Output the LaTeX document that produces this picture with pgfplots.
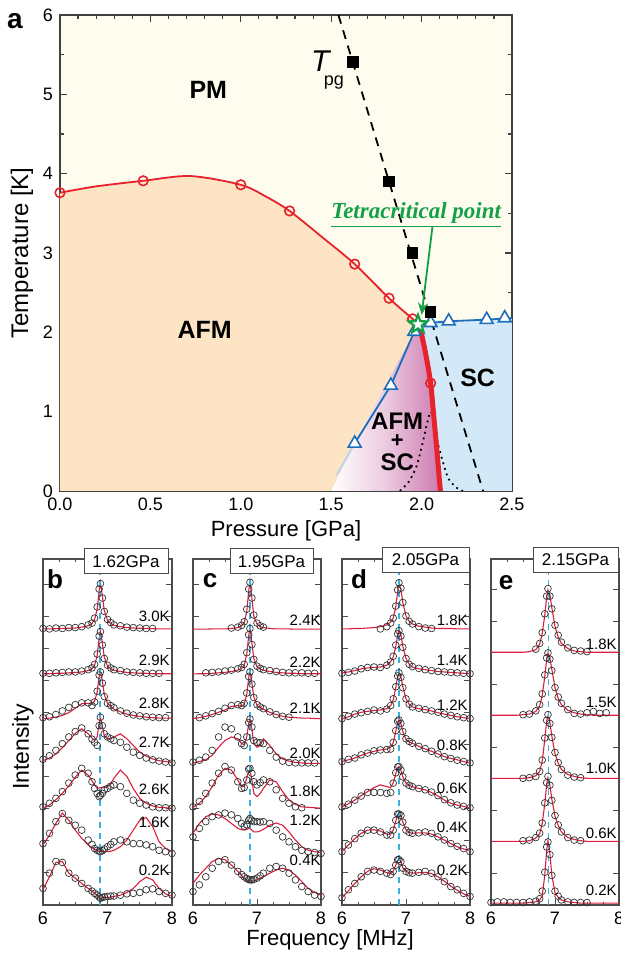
\documentclass[border=0pt]{standalone}
\usepackage{fontspec}
\setmainfont{Liberation Sans}
\newfontfamily\timesf{Liberation Serif}
\usepackage{pgfplots}
\pgfplotsset{compat=1.18}
\usepackage{pgfplotstable}
\usetikzlibrary{arrows.meta}

\definecolor{pmbg}{RGB}{253,252,238}
\definecolor{afm}{RGB}{252,228,197}
\definecolor{scb}{RGB}{212,233,247}
\definecolor{mixp}{RGB}{205,122,176}
\definecolor{redl}{RGB}{230,35,45}
\definecolor{bluel}{RGB}{30,110,185}
\definecolor{greenl}{RGB}{20,160,70}
\definecolor{cyanl}{RGB}{60,175,225}
\definecolor{fitred}{RGB}{220,30,60}

\pgfdeclareplotmark{fstar}{%
 \pgfpathmoveto{\pgfpointpolar{90}{\pgfplotmarksize}}%
 \pgfpathlineto{\pgfpointpolar{126}{0.42\pgfplotmarksize}}%
 \pgfpathlineto{\pgfpointpolar{162}{\pgfplotmarksize}}%
 \pgfpathlineto{\pgfpointpolar{198}{0.42\pgfplotmarksize}}%
 \pgfpathlineto{\pgfpointpolar{234}{\pgfplotmarksize}}%
 \pgfpathlineto{\pgfpointpolar{270}{0.42\pgfplotmarksize}}%
 \pgfpathlineto{\pgfpointpolar{306}{\pgfplotmarksize}}%
 \pgfpathlineto{\pgfpointpolar{342}{0.42\pgfplotmarksize}}%
 \pgfpathlineto{\pgfpointpolar{18}{\pgfplotmarksize}}%
 \pgfpathlineto{\pgfpointpolar{54}{0.42\pgfplotmarksize}}%
 \pgfpathclose
 \pgfusepathqfillstroke}

% spectra: f = fit, d = data (relative to baseline)
\pgfplotstableread{
x f1 d1 f2 d2 f3 d3 f4 d4 f5 d5 f6 d6 f7 d7
6.0 0.01 0.02 0.01 0.02 0.01 0.03 0.07 0.1 0.01 0.04 0.19 0.22 0.19 0.22
6.1 0.01 0.01 0.01 0.02 0.02 0.05 0.13 0.18 0.08 0.12 0.41 0.45 0.48 0.56
6.2 0.015 0.03 0.02 0.03 0.04 0.1 0.22 0.3 0.2 0.23 0.67 0.71 0.8 0.82
6.3 0.02 0.02 0.02 0.04 0.08 0.18 0.36 0.45 0.34 0.38 0.9 0.89 0.82 0.8
6.4 0.025 0.04 0.03 0.05 0.14 0.26 0.52 0.6 0.51 0.57 0.74 0.74 0.56 0.56
6.5 0.03 0.04 0.04 0.05 0.24 0.32 0.68 0.72 0.7 0.75 0.52 0.63 0.45 0.45
6.6 0.05 0.06 0.05 0.07 0.34 0.36 0.78 0.8 0.86 0.9 0.34 0.52 0.33 0.33
6.7 0.08 0.1 0.08 0.1 0.35 0.36 0.67 0.67 0.75 0.79 0.19 0.3 0.22 0.22
6.76 0.13 0.14 0.12 0.14 0.33 0.3 0.58 0.55 0.62 0.6 0.13 0.2 0.16 0.16
6.8 0.22 0.25 0.2 0.22 0.4 0.38 0.52 0.48 0.53 0.45 0.09 0.11 0.11 0.11
6.84 0.45 0.5 0.42 0.45 0.6 0.62 0.6 0.41 0.45 0.34 0.06 0.07 0.06 0.07
6.87 0.85 0.9 0.8 0.85 0.95 0.98 0.9 0.85 0.46 0.27 0.05 0.05 0.02 0.03
6.89 1.05 1.02 0.96 0.95 1.07 1.05 1.04 1.04 0.47 0.3 0.04 0.04 0.0 0.0
6.92 0.75 0.7 0.7 0.65 0.85 0.8 0.85 0.85 0.47 0.34 0.04 0.06 0.01 0.02
6.95 0.42 0.4 0.38 0.35 0.55 0.5 0.62 0.67 0.47 0.42 0.04 0.1 0.02 0.03
7.0 0.2 0.22 0.18 0.2 0.35 0.35 0.56 0.6 0.49 0.45 0.04 0.15 0.02 0.04
7.05 0.13 0.15 0.12 0.14 0.28 0.3 0.57 0.56 0.56 0.5 0.05 0.2 0.03 0.05
7.1 0.09 0.1 0.09 0.1 0.22 0.25 0.6 0.52 0.68 0.53 0.07 0.26 0.04 0.05
7.2 0.06 0.08 0.06 0.08 0.16 0.18 0.67 0.48 0.86 0.49 0.15 0.3 0.07 0.07
7.3 0.04 0.05 0.04 0.05 0.11 0.13 0.56 0.37 0.72 0.34 0.3 0.26 0.13 0.1
7.4 0.03 0.04 0.03 0.04 0.08 0.09 0.41 0.26 0.45 0.19 0.52 0.22 0.22 0.11
7.5 0.025 0.03 0.02 0.03 0.06 0.07 0.26 0.19 0.23 0.12 0.74 0.22 0.37 0.13
7.6 0.02 0.02 0.02 0.02 0.04 0.05 0.17 0.13 0.12 0.08 0.8 0.19 0.47 0.19
7.7 0.015 0.02 0.01 0.02 0.03 0.04 0.11 0.09 0.06 0.04 0.6 0.15 0.41 0.21
7.8 0.01 nan 0.01 0.02 0.02 0.03 0.07 0.06 0.03 0.02 0.26 0.07 0.22 0.15
7.9 0.01 nan 0.01 nan 0.02 0.03 0.05 0.04 0.02 0.02 0.11 0.04 0.1 0.11
8.0 0.01 nan 0.01 nan 0.02 nan 0.03 0.02 0.01 0.01 0.04 0.0 0.04 0.07
}\tabB

\pgfplotstableread{
x f1 d1 f2 d2 f3 d3 f4 d4 f5 d5 f6 d6 f7 d7
6.0 0.005 nan 0.005 nan 0.01 nan 0.02 0.04 0.03 0.04 0.45 0.37 0.33 0.15
6.1 0.005 nan 0.01 nan 0.03 0.03 0.05 0.08 0.12 0.16 0.67 0.56 0.52 0.3
6.2 0.005 nan 0.01 0.03 0.06 0.07 0.09 0.15 0.27 0.34 0.82 0.71 0.67 0.48
6.3 0.01 nan 0.02 0.04 0.1 0.12 0.19 0.3 0.49 0.57 0.88 0.82 0.82 0.67
6.4 0.01 nan 0.03 0.05 0.15 0.17 0.37 0.6 0.75 0.79 0.86 0.86 0.89 0.82
6.5 0.01 nan 0.04 0.07 0.2 0.24 0.52 0.82 0.9 0.94 0.78 0.9 0.86 0.86
6.6 0.02 0.03 0.06 0.09 0.28 0.3 0.6 0.78 0.86 0.86 0.67 0.86 0.74 0.74
6.7 0.04 0.05 0.09 0.12 0.3 0.32 0.56 0.6 0.64 0.6 0.56 0.78 0.6 0.6
6.76 0.08 0.09 0.13 0.15 0.28 0.3 0.45 0.45 0.49 0.45 0.53 0.67 0.51 0.53
6.8 0.15 0.17 0.2 0.22 0.33 0.35 0.43 0.41 0.5 0.47 0.52 0.61 0.45 0.48
6.84 0.4 0.45 0.45 0.48 0.55 0.58 0.6 0.6 0.68 0.64 0.54 0.64 0.41 0.44
6.87 0.85 0.9 0.85 0.88 0.92 0.95 0.9 0.92 0.84 0.88 0.56 0.74 0.38 0.42
6.89 1.08 1.05 1.05 1.02 1.07 1.05 1.0 1.0 0.86 0.9 0.56 0.78 0.37 0.41
6.92 0.7 0.7 0.7 0.66 0.8 0.78 0.78 0.82 0.65 0.79 0.52 0.74 0.38 0.41
6.95 0.3 0.32 0.35 0.33 0.5 0.48 0.45 0.52 0.34 0.6 0.48 0.71 0.39 0.42
7.0 0.12 0.14 0.17 0.18 0.3 0.32 0.37 0.48 0.27 0.53 0.48 0.71 0.41 0.45
7.05 0.06 0.08 0.12 0.13 0.26 0.27 0.41 0.47 0.34 0.58 0.5 0.7 0.45 0.5
7.1 0.04 0.05 0.09 0.1 0.22 0.23 0.56 0.45 0.45 0.64 0.54 0.71 0.48 0.56
7.2 0.02 nan 0.06 0.08 0.15 0.16 0.41 0.3 0.64 0.6 0.63 0.67 0.56 0.67
7.3 0.01 nan 0.04 0.06 0.1 0.1 0.22 0.15 0.6 0.42 0.68 0.52 0.63 0.71
7.4 0.01 nan 0.03 0.04 0.06 0.06 0.11 0.06 0.38 0.23 0.63 0.37 0.67 0.67
7.5 0.01 nan 0.02 0.03 0.04 0.04 0.06 0.03 0.19 0.12 0.48 0.26 0.63 0.56
7.6 0.005 nan 0.02 0.03 0.03 nan 0.03 0.02 0.1 0.04 0.3 0.15 0.52 0.41
7.7 0.005 nan 0.01 0.03 0.02 nan 0.02 0.02 0.04 0.02 0.15 0.07 0.37 0.26
7.8 0.005 nan 0.01 0.02 0.02 nan 0.01 0.02 0.03 nan 0.07 0.04 0.22 0.15
7.9 0.005 nan 0.01 0.02 0.01 nan 0.01 0.02 0.02 nan 0.04 0.02 0.13 0.07
8.0 0.005 nan 0.01 nan 0.01 nan 0.01 nan 0.01 nan 0.02 0.0 0.07 0.04
}\tabC

\pgfplotstableread{
x f1 d1 f2 d2 f3 d3 f4 d4 f5 d5 f6 d6 f7 d7
6.0 0.01 nan 0.03 0.02 0.0 0.01 0.05 0.05 0.04 0.04 0.04 0.04 0.01 0.01
6.1 0.01 nan 0.05 0.04 0.05 0.06 0.09 0.1 0.11 0.1 0.19 0.19 0.17 0.19
6.2 0.02 nan 0.08 0.07 0.11 0.11 0.13 0.13 0.19 0.19 0.33 0.33 0.33 0.33
6.3 0.02 nan 0.12 0.12 0.15 0.14 0.19 0.2 0.29 0.28 0.45 0.45 0.48 0.48
6.4 0.03 nan 0.14 0.15 0.17 0.17 0.24 0.24 0.38 0.36 0.52 0.52 0.6 0.6
6.5 0.04 nan 0.15 0.16 0.19 0.2 0.28 0.29 0.47 0.36 0.53 0.52 0.66 0.63
6.6 0.06 0.01 0.16 0.15 0.2 0.18 0.31 0.31 0.53 0.36 0.5 0.48 0.63 0.6
6.7 0.1 0.06 0.2 0.2 0.23 0.22 0.33 0.32 0.49 0.34 0.43 0.41 0.57 0.56
6.76 0.16 0.14 0.28 0.27 0.3 0.3 0.37 0.33 0.47 0.36 0.43 0.41 0.55 0.53
6.8 0.25 0.25 0.38 0.4 0.42 0.45 0.47 0.48 0.57 0.57 0.52 0.52 0.6 0.6
6.84 0.5 0.52 0.62 0.65 0.7 0.72 0.72 0.74 0.78 0.8 0.72 0.74 0.74 0.74
6.87 0.85 0.88 0.88 0.9 0.95 0.96 0.93 0.95 0.92 0.93 0.86 0.88 0.84 0.86
6.89 1.02 1.04 0.98 0.97 1.04 1.03 0.98 0.98 0.94 0.94 0.88 0.88 0.86 0.86
6.92 0.9 0.92 0.88 0.85 0.95 0.93 0.9 0.9 0.86 0.86 0.84 0.85 0.82 0.82
6.95 0.6 0.6 0.62 0.6 0.72 0.7 0.72 0.72 0.71 0.71 0.7 0.7 0.68 0.67
7.0 0.3 0.3 0.35 0.35 0.45 0.45 0.54 0.56 0.57 0.57 0.53 0.52 0.6 0.6
7.05 0.18 0.18 0.22 0.22 0.33 0.33 0.49 0.5 0.52 0.52 0.47 0.47 0.57 0.57
7.1 0.12 0.12 0.16 0.17 0.27 0.27 0.46 0.46 0.49 0.49 0.45 0.45 0.56 0.56
7.2 0.07 0.06 0.12 0.13 0.23 0.24 0.39 0.39 0.45 0.45 0.46 0.46 0.57 0.58
7.3 0.05 0.03 0.1 0.1 0.21 0.21 0.33 0.34 0.42 0.42 0.46 0.48 0.58 0.6
7.4 0.03 0.02 0.08 0.08 0.18 0.18 0.28 0.28 0.36 0.37 0.43 0.45 0.55 0.56
7.5 0.02 nan 0.06 0.06 0.14 0.15 0.22 0.22 0.28 0.29 0.37 0.37 0.48 0.48
7.6 0.02 nan 0.05 0.05 0.11 0.11 0.16 0.16 0.19 0.2 0.3 0.3 0.38 0.37
7.7 0.02 nan 0.04 0.04 0.08 0.08 0.12 0.12 0.12 0.13 0.22 0.22 0.27 0.26
7.8 0.01 nan 0.03 0.03 0.05 0.05 0.09 0.08 0.08 0.08 0.15 0.16 0.18 0.19
7.9 0.01 nan 0.02 0.02 0.03 0.03 0.05 0.05 0.05 0.05 0.1 0.11 0.1 0.11
8.0 0.01 nan 0.01 0.01 0.01 0.01 0.02 0.02 0.01 0.02 0.07 0.04 0.04 0.04
}\tabD

\pgfplotstableread{
x f1 d1 f2 d2 f3 d3 f4 d4 f5 d5
6.0 0.01 nan 0.01 nan 0.01 nan 0.01 nan 0.01 0.02
6.1 0.01 nan 0.01 nan 0.01 nan 0.01 nan 0.01 0.03
6.2 0.01 nan 0.01 nan 0.01 nan 0.01 nan 0.01 0.03
6.3 0.01 nan 0.01 nan 0.01 nan 0.01 nan 0.01 0.02
6.4 0.01 nan 0.01 nan 0.01 nan 0.01 nan 0.01 0.02
6.5 0.01 nan 0.02 0.02 0.01 0.01 0.01 0.02 0.01 0.02
6.6 0.02 nan 0.03 0.03 0.02 0.02 0.02 0.03 0.02 0.03
6.7 0.05 0.06 0.07 0.08 0.05 0.04 0.06 0.07 0.03 0.04
6.76 0.14 0.15 0.16 0.18 0.12 0.12 0.13 0.14 0.06 0.08
6.8 0.3 0.32 0.32 0.35 0.28 0.3 0.29 0.3 0.12 0.2
6.84 0.6 0.62 0.62 0.65 0.62 0.65 0.6 0.62 0.45 0.5
6.87 0.88 0.9 0.9 0.92 0.92 0.93 0.92 0.94 0.85 0.9
6.89 1.0 1.02 1.0 1.0 1.0 1.02 1.02 1.04 1.0 0.98
6.92 0.92 0.9 0.92 0.9 0.9 0.88 0.9 0.9 0.8 0.78
6.95 0.72 0.7 0.74 0.72 0.68 0.66 0.68 0.66 0.45 0.45
7.0 0.42 0.44 0.45 0.45 0.4 0.42 0.41 0.42 0.18 0.2
7.05 0.25 0.28 0.28 0.3 0.25 0.26 0.26 0.27 0.1 0.12
7.1 0.15 0.17 0.18 0.2 0.15 0.15 0.16 0.16 0.06 0.06
7.2 0.07 0.08 0.09 0.1 0.07 0.06 0.07 0.07 0.03 0.03
7.3 0.03 0.04 0.05 0.04 0.04 0.03 0.04 0.03 0.02 0.02
7.4 0.02 0.03 0.03 0.03 0.02 0.02 0.02 0.02 0.01 0.02
7.5 0.01 0.02 0.02 0.05 0.01 nan 0.01 nan 0.01 0.02
7.6 0.01 nan 0.01 0.07 0.01 nan 0.01 nan 0.01 nan
7.7 0.01 nan 0.01 0.04 0.01 nan 0.01 nan 0.01 nan
7.8 0.01 nan 0.01 0.05 0.01 nan 0.01 nan 0.01 nan
7.9 0.01 nan 0.01 nan 0.01 nan 0.01 nan 0.01 nan
8.0 0.01 nan 0.01 nan 0.01 nan 0.01 nan 0.01 nan
}\tabE

\newcommand{\spec}[3]{%
  \addplot[only marks, mark=o, mark size=1.7pt, black!80, mark options={line width=0.35pt}]
     table[x=x, y expr=\thisrow{d#2}+#3]{#1};
  \addplot[fitred, line width=0.55pt] table[x=x, y expr=\thisrow{f#2}+#3]{#1};
}
\newcommand{\tlab}[2]{\node[anchor=east, inner sep=0pt, font=\fontsize{7.5}{8}\selectfont] at (axis cs:7.97,#1) {#2};}

\pgfplotsset{
  specax/.style={
    scale only axis, anchor=south west, height=173pt,
    xmin=6, xmax=8, xtick={6,7,8}, minor x tick num=3,
    yticklabels={}, ymin=0,
    axis line style={black!70, line width=0.6pt},
    tick style={black!70, line width=0.5pt},
    major tick length=3pt, minor tick length=1.7pt,
    tick label style={font=\fontsize{9}{10}\selectfont},
    /pgf/number format/assume math mode=true,
    clip=true,
  }
}

\begin{document}
\begin{tikzpicture}
\path[use as bounding box] (0,0) rectangle (310.5pt,480pt);

% ---------------- panel a ----------------
\begin{axis}[
  at={(30pt,234.5pt)}, anchor=south west, scale only axis,
  width=226pt, height=238pt,
  xmin=0, xmax=2.5, ymin=0, ymax=6,
  xtick={0,0.5,1,1.5,2,2.5}, minor x tick num=4,
  ytick={0,1,2,3,4,5,6}, minor y tick num=1,
  xticklabel style={/pgf/number format/.cd, fixed, fixed zerofill, precision=1},
  /pgf/number format/assume math mode=true,
  tick label style={font=\fontsize{9}{10}\selectfont},
  axis line style={black!75, line width=0.8pt},
  tick style={black!75, line width=0.6pt},
  major tick length=3.5pt, minor tick length=2pt,
  axis background/.style={fill=pmbg},
  xlabel={Pressure [GPa]}, ylabel={Temperature [K]},
  xlabel style={font=\fontsize{11}{12}\selectfont, yshift=2pt},
  ylabel style={font=\fontsize{12}{13}\selectfont, yshift=-2pt},
  clip mode=individual,
]
% AFM region
\addplot[draw=none, fill=afm] coordinates {
 (0,0) (0,3.76) (0.2,3.84) (0.46,3.91) (0.6,3.95) (0.72,3.97) (0.85,3.94) (1.0,3.86)
 (1.14,3.71) (1.27,3.53) (1.45,3.2) (1.63,2.86) (1.82,2.43) (1.95,2.17) (1.975,2.12)
 (1.96,2.01) (1.63,0.6) (1.5,0)} --cycle;
% SC region
\addplot[draw=none, fill=scb] coordinates {
 (1.975,2.12) (2.05,2.12) (2.15,2.14) (2.36,2.16) (2.5,2.18) (2.5,0) (2.105,0)
 (2.1,0.1) (2.085,0.5) (2.065,1.0) (2.05,1.36) (2.025,1.7) (1.997,2.0)} --cycle;
% AFM+SC region
\addplot[draw=none, left color=white, right color=mixp, middle color=mixp!40] coordinates {
 (1.5,0) (1.63,0.6) (1.96,2.01) (1.975,2.12) (1.997,2.0) (2.025,1.7) (2.05,1.36)
 (2.065,1.0) (2.085,0.5) (2.1,0.1) (2.105,0)} --cycle;
% faint extension of Tc line
\addplot[bluel!30, line width=0.9pt] coordinates {(1.53,0.2) (1.63,0.6)};
% Tpg dashed line
\addplot[black, line width=0.9pt, dash pattern=on 4.5pt off 3.5pt] coordinates {(1.54,6) (2.34,0)};
% dotted line
\addplot[black, line width=0.9pt, dotted, smooth] coordinates {
 (1.88,0) (1.93,0.12) (1.97,0.3) (2.0,0.55) (2.03,0.85) (2.05,1.0) (2.065,0.9)
 (2.09,0.6) (2.12,0.35) (2.15,0.15) (2.2,0.03) (2.23,0)};
% TN line
\addplot[redl, line width=0.9pt, smooth, tension=0.5] coordinates {
 (0,3.76) (0.2,3.84) (0.46,3.91) (0.72,3.97) (1.0,3.86) (1.14,3.71) (1.27,3.53)
 (1.45,3.2) (1.63,2.86) (1.82,2.43) (1.95,2.17) (1.975,2.12)};
% thick red line
\addplot[redl, line width=2.5pt, smooth] coordinates {
 (1.975,2.12) (1.997,2.0) (2.025,1.7) (2.05,1.36) (2.065,1.0) (2.085,0.5) (2.1,0.1) (2.105,0)};
% Tc line
\addplot[bluel, line width=0.9pt] coordinates {
 (1.63,0.6) (1.83,1.33) (1.96,2.01) (1.975,2.1) (2.05,2.12) (2.15,2.14) (2.36,2.16) (2.5,2.18)};
% markers
\addplot[only marks, mark=o, mark size=2.4pt, redl, mark options={fill=white, line width=0.8pt}] coordinates {
 (0,3.76) (0.46,3.91) (1.0,3.86) (1.27,3.53) (1.63,2.86) (1.82,2.43) (1.95,2.17) (2.05,1.36)};
\addplot[only marks, mark=triangle*, mark size=3.7pt, bluel, mark options={fill=white, line width=0.8pt}] coordinates {
 (1.63,0.6) (1.83,1.33) (1.96,2.01) (2.05,2.12) (2.15,2.14) (2.36,2.16) (2.46,2.18)};
\addplot[only marks, mark=square*, mark size=2.6pt, black] coordinates {
 (1.62,5.41) (1.82,3.9) (1.95,3.0) (2.05,2.26)};
% arrow
\addplot[greenl, line width=0.9pt, -{Stealth[length=6pt,width=5pt]}] coordinates {(2.06,3.33) (2.0,2.22)};
\addplot[only marks, mark=fstar, mark size=4.8pt, greenl, mark options={fill=white, line width=1.1pt}] coordinates {(1.98,2.1)};
% texts
\node[font=\fontsize{12.5}{13}\selectfont\bfseries] at (axis cs:0.82,5.06) {PM};
\node[font=\fontsize{12.5}{13}\selectfont\bfseries] at (axis cs:0.8,2.03) {AFM};
\node[font=\fontsize{12.5}{13}\selectfont\bfseries] at (axis cs:2.31,1.42) {SC};
\node[font=\fontsize{12}{12}\selectfont\bfseries, inner sep=0pt] at (axis cs:1.865,0.88) {AFM};
\node[font=\fontsize{11}{11}\selectfont\bfseries, inner sep=0pt] at (axis cs:1.865,0.625) {+};
\node[font=\fontsize{12}{12}\selectfont\bfseries, inner sep=0pt] at (axis cs:1.865,0.36) {SC};
\node[font=\fontsize{15}{15}\selectfont\itshape, inner sep=0pt] at (axis cs:1.44,5.42) {T};
\node[font=\fontsize{9}{10}\selectfont, inner sep=0pt] at (axis cs:1.515,5.15) {pg};
\node[font=\timesf\fontsize{11.5}{12}\selectfont\bfseries\itshape, text=greenl, inner sep=0pt] at (axis cs:1.97,3.48) {\underline{Tetracritical point}};
\end{axis}
\node[font=\fontsize{14}{14}\selectfont\bfseries] at (7.5pt,469.5pt) {a};

% ---------------- panel b ----------------
\begin{axis}[specax, at={(21.5pt,27.5pt)}, width=64.5pt, ymax=7.72, ytick distance=0.714]
\spec{\tabB}{1}{6.15}
\spec{\tabB}{2}{5.15}
\spec{\tabB}{3}{4.15}
\spec{\tabB}{4}{3.15}
\spec{\tabB}{5}{2.15}
\spec{\tabB}{6}{1.15}
\spec{\tabB}{7}{0.15}
\addplot[cyanl, line width=0.8pt, dash pattern=on 3pt off 2.5pt] coordinates {(6.88,0) (6.88,7.72)};
\tlab{6.43}{3.0K}
\tlab{5.47}{2.9K}
\tlab{4.51}{2.8K}
\tlab{3.62}{2.7K}
\tlab{2.57}{2.6K}
\tlab{1.85}{1.6K}
\tlab{0.78}{0.2K}
\end{axis}

% ---------------- panel c ----------------
\begin{axis}[specax, at={(96.5pt,27.5pt)}, width=64pt, ymax=7.72, ytick distance=0.714]
\spec{\tabC}{1}{6.15}
\spec{\tabC}{2}{5.15}
\spec{\tabC}{3}{4.15}
\spec{\tabC}{4}{3.15}
\spec{\tabC}{5}{2.15}
\spec{\tabC}{6}{1.15}
\spec{\tabC}{7}{0.15}
\addplot[cyanl, line width=0.8pt, dash pattern=on 3pt off 2.5pt] coordinates {(6.89,0) (6.89,7.72)};
\end{axis}
\begin{scope}[font=\fontsize{7.5}{8}\selectfont]
\node[anchor=east, inner sep=0pt] at (160.5pt,170pt) {2.4K};
\node[anchor=east, inner sep=0pt] at (160.5pt,149pt) {2.2K};
\node[anchor=east, inner sep=0pt] at (160.5pt,126pt) {2.1K};
\node[anchor=east, inner sep=0pt] at (160.5pt,103.5pt) {2.0K};
\node[anchor=east, inner sep=0pt] at (160.5pt,84.5pt) {1.8K};
\node[anchor=east, inner sep=0pt] at (160.5pt,70pt) {1.2K};
\node[anchor=east, inner sep=0pt] at (160.5pt,50pt) {0.4K};
\end{scope}

% ---------------- panel d ----------------
\begin{axis}[specax, at={(171pt,27.5pt)}, width=64pt, ymax=7.72, ytick distance=0.714]
\spec{\tabD}{1}{6.15}
\spec{\tabD}{2}{5.15}
\spec{\tabD}{3}{4.15}
\spec{\tabD}{4}{3.15}
\spec{\tabD}{5}{2.15}
\spec{\tabD}{6}{1.15}
\spec{\tabD}{7}{0.15}
\addplot[cyanl, line width=0.8pt, dash pattern=on 3pt off 2.5pt] coordinates {(6.89,0) (6.89,7.72)};
\tlab{6.36}{1.8K}
\tlab{5.47}{1.4K}
\tlab{4.46}{1.2K}
\tlab{3.57}{0.8K}
\tlab{2.61}{0.6K}
\tlab{1.74}{0.4K}
\tlab{0.78}{0.2K}
\end{axis}

% ---------------- panel e ----------------
\begin{axis}[specax, at={(245.5pt,27.5pt)}, width=64pt, ymax=5.49, ytick distance=0.5]
\spec{\tabE}{1}{4}
\spec{\tabE}{2}{3}
\spec{\tabE}{3}{2}
\spec{\tabE}{4}{1}
\spec{\tabE}{5}{0.02}
\addplot[cyanl, line width=0.8pt, dash pattern=on 3pt off 2.5pt] coordinates {(6.9,0) (6.9,5.49)};
\tlab{4.14}{1.8K}
\tlab{3.21}{1.5K}
\tlab{2.17}{1.0K}
\tlab{1.14}{0.6K}
\tlab{0.24}{0.2K}
\end{axis}

% pressure boxes
\begin{scope}[every node/.style={draw=black!70, fill=white, line width=0.5pt, inner sep=0pt,
   minimum height=12.5pt, font=\fontsize{8.5}{9}\selectfont}]
\node[minimum width=42pt] at (63pt,199.25pt) {1.62GPa};
\node[minimum width=41.5pt] at (135.75pt,199.25pt) {1.95GPa};
\node[minimum width=43.5pt] at (212.75pt,200pt) {2.05GPa};
\node[minimum width=42.5pt] at (287.75pt,200pt) {2.15GPa};
\end{scope}
% panel letters
\begin{scope}[font=\fontsize{13}{13}\selectfont\bfseries]
\node at (27.5pt,190.5pt) {b};
\node at (105pt,189.5pt) {c};
\node at (179.5pt,190.5pt) {d};
\node at (253pt,188.5pt) {e};
\end{scope}
% common labels
\node[rotate=90, font=\fontsize{11.5}{12}\selectfont] at (11.5pt,106.5pt) {Intensity};
\node[font=\fontsize{11}{12}\selectfont] at (165pt,10pt) {Frequency [MHz]};
\end{tikzpicture}
\end{document}
